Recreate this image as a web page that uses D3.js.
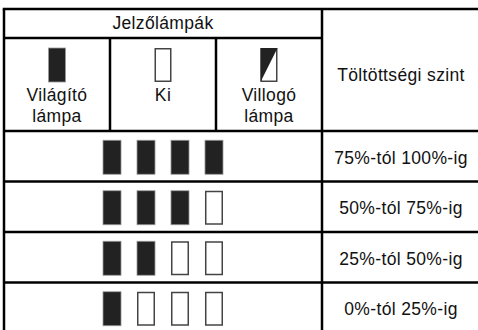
<!DOCTYPE html>
<html>
<head>
<meta charset="utf-8">
<script src="https://cdn.jsdelivr.net/npm/d3@7"></script>
<style>
  html, body { margin: 0; padding: 0; background: #fff; }
  svg { display: block; }
  text { font-family: "Liberation Sans", Arial, sans-serif; font-size: 17.5px; fill: #111; letter-spacing: 0.35px; }
</style>
</head>
<body>
<svg id="chart" width="478" height="330"></svg>
<script>
// ---- data ----
const groupTitle = "Jelzőlámpák";
const levelTitle = "Töltöttségi szint";
const legendStates = ["on", "off", "blink"];
const legendLabels = [["Világító", "lámpa"], ["Ki"], ["Villogó", "lámpa"]];
const levelLabels = ["75%-tól 100%-ig", "50%-tól 75%-ig", "25%-tól 50%-ig", "0%-tól 25%-ig"];
const litCounts = [4, 3, 2, 1];
const lampCount = 4;

// ---- layout ----
const svg = d3.select("#chart");
const L = 4, T = 9, R = 480, B = 333;
const hdr1 = 38, hdr2 = 131;
const colSplit = 322;
const legendCols = d3.scaleBand().domain(legendStates).range([L, colSplit]);
const rowScale = d3.scaleBand().domain(levelLabels).range([hdr2, B]);
const lampX = d3.scaleBand().domain(d3.range(lampCount)).range([103, 223]).paddingInner(0.47);
const lampH = 34;

const onFill = "#222", onStroke = "#9a9a9a", offStroke = "#444";

// ---- lamps ----
function drawLamp(g, state, x, y, w, h) {
  if (state === "on") {
    g.append("rect").attr("x", x).attr("y", y).attr("width", w).attr("height", h)
      .attr("fill", onFill).attr("stroke", onStroke).attr("stroke-width", 0.8);
  } else if (state === "off") {
    g.append("rect").attr("x", x + 0.75).attr("y", y + 0.75).attr("width", w - 1.5).attr("height", h - 1.5)
      .attr("fill", "#fff").attr("stroke", offStroke).attr("stroke-width", 1.5);
  } else {
    g.append("rect").attr("x", x + 0.75).attr("y", y + 0.75).attr("width", w - 1.5).attr("height", h - 1.5)
      .attr("fill", "#fff").attr("stroke", offStroke).attr("stroke-width", 1.5);
    g.append("path")
      .attr("d", `M${x},${y}L${x + w},${y}L${x},${y + h}Z`)
      .attr("fill", onFill);
  }
}

// legend header
const leg = svg.append("g");
legendStates.forEach((s, i) => {
  const cx = legendCols(s) + legendCols.bandwidth() / 2;
  drawLamp(leg, s, cx - 8.5, 48, 17, 34);
  legendLabels[i].forEach((line, j) => {
    leg.append("text").attr("x", cx).attr("y", 101 + j * 21)
      .attr("text-anchor", "middle").text(line);
  });
});

svg.append("text").attr("x", (L + colSplit) / 2).attr("y", 29)
  .attr("text-anchor", "middle").text(groupTitle);
svg.append("text").attr("x", (colSplit + R) / 2).attr("y", 81)
  .attr("text-anchor", "middle").text(levelTitle);

// level rows
const rows = svg.append("g");
levelLabels.forEach((lbl, r) => {
  const y0 = rowScale(lbl), h = rowScale.bandwidth();
  const ly = y0 + (h - lampH) / 2 + 1;
  d3.range(lampCount).forEach(k => {
    drawLamp(rows, k < litCounts[r] ? "on" : "off", lampX(k), ly, lampX.bandwidth(), lampH);
  });
  rows.append("text").attr("x", (colSplit + R) / 2).attr("y", y0 + h / 2 + 7.5)
    .attr("text-anchor", "middle").text(lbl);
});

// grid lines
const lines = svg.append("g").attr("stroke", "#000").attr("stroke-width", 2.5);
lines.append("line").attr("x1", L - 1.25).attr("x2", R).attr("y1", T).attr("y2", T);
lines.append("line").attr("x1", L).attr("x2", L).attr("y1", T).attr("y2", B);
lines.append("line").attr("x1", L).attr("x2", colSplit).attr("y1", hdr1).attr("y2", hdr1);
lines.append("line").attr("x1", colSplit).attr("x2", colSplit).attr("y1", T).attr("y2", B);
legendStates.slice(1).forEach(s => {
  lines.append("line").attr("x1", legendCols(s)).attr("x2", legendCols(s)).attr("y1", hdr1).attr("y2", hdr2);
});
levelLabels.forEach(lbl => {
  const y = rowScale(lbl);
  lines.append("line").attr("x1", L).attr("x2", R).attr("y1", y).attr("y2", y);
});
</script>
</body>
</html>
